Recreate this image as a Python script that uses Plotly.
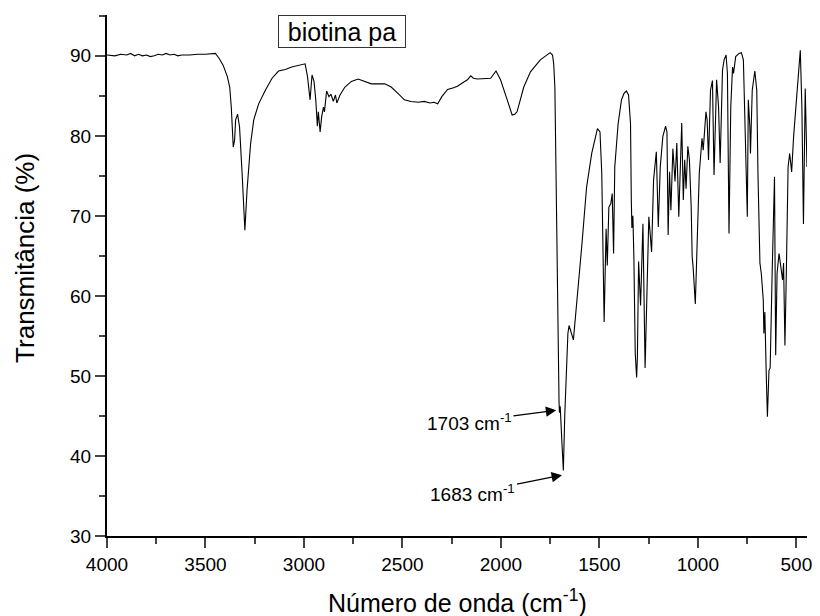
import plotly.graph_objects as go

# Wavenumber (cm-1) and transmittance (%)
wavenumber = [
    4000, 3960, 3930, 3900, 3880, 3860, 3840, 3820, 3800, 3780, 3760, 3740, 3720, 3700,
    3680, 3660, 3640, 3620, 3580, 3540, 3500, 3470, 3450, 3431, 3410, 3389, 3377, 3369,
    3359, 3352, 3347, 3337, 3327, 3314, 3300, 3289, 3271, 3255, 3230, 3196, 3162, 3129,
    3095, 3062, 3030, 2994, 2982, 2969, 2959, 2949, 2940, 2932, 2927, 2918, 2910, 2901,
    2896, 2885, 2873, 2863, 2851, 2840, 2833, 2817, 2792, 2759, 2725, 2691, 2658, 2590,
    2557, 2523, 2490, 2457, 2420, 2389, 2360, 2340, 2321, 2300, 2271, 2240, 2221, 2190,
    2170, 2153, 2140, 2120, 2080, 2052, 2025, 2002, 1968, 1943, 1930, 1918, 1884, 1850,
    1800, 1760, 1750, 1738, 1732, 1726, 1716, 1708, 1705, 1703, 1699, 1690, 1683, 1676,
    1665, 1660, 1654, 1643, 1632, 1590, 1565, 1539, 1522, 1510, 1497, 1488, 1476, 1466,
    1460, 1452, 1442, 1435, 1428, 1422, 1405, 1388, 1375, 1363, 1352, 1342, 1338, 1335,
    1330, 1325, 1318, 1316, 1311, 1307, 1301, 1291, 1279, 1268, 1249, 1235, 1225, 1211,
    1201, 1191, 1178, 1164, 1157, 1151, 1144, 1137, 1127, 1116, 1107, 1097, 1082, 1074,
    1067, 1060, 1051, 1043, 1034, 1029, 1024, 1013, 1005, 993, 979, 973, 959, 953,
    946, 936, 926, 918, 905, 895, 887, 875, 867, 857, 850, 842, 833, 824,
    819, 808, 791, 779, 769, 762, 757, 749, 744, 736, 733, 724, 711, 701,
    695, 685, 678, 668, 665, 660, 653, 647, 639, 633, 623, 611, 605, 598,
    588, 576, 570, 565, 558, 551, 542, 534, 524, 514, 497, 480, 472, 464,
    455, 446,
]
transmittance = [
    90.1, 90.0, 90.2, 90.1, 90.3, 90.0, 90.2, 90.0, 90.1, 89.9, 90.0, 90.2, 90.1, 90.3,
    90.1, 90.2, 90.0, 90.1, 90.1, 90.2, 90.2, 90.3, 90.3, 89.7, 88.8, 87.4, 86.1, 83.6,
    78.6, 79.5, 82.0, 82.7, 81.1, 75.3, 68.2, 73.2, 79.0, 82.0, 84.0, 85.7, 87.2, 88.1,
    88.3, 88.6, 88.8, 89.0, 87.4, 84.5, 87.6, 86.8, 84.5, 81.2, 83.0, 80.5, 82.4, 83.6,
    83.0, 85.6, 84.9, 85.2, 84.3, 85.1, 84.1, 85.1, 86.1, 86.8, 87.1, 86.8, 86.5, 86.5,
    86.1, 85.3, 84.5, 84.3, 84.2, 84.3, 84.1, 84.2, 84.0, 84.9, 85.8, 86.0, 86.2, 86.7,
    87.0, 87.5, 87.2, 87.1, 87.2, 87.2, 88.1, 87.0, 84.5, 82.6, 82.7, 83.0, 86.1, 88.0,
    89.5, 90.2, 90.4, 90.1, 89.0, 86.0, 67.0, 47.0, 46.8, 45.4, 46.2, 41.5, 38.2, 45.0,
    53.0, 55.3, 56.3, 55.5, 54.5, 66.1, 73.6, 77.8, 79.5, 80.9, 80.5, 75.3, 56.75, 68.4,
    63.8, 71.1, 71.55, 72.8, 65.3, 76.1, 81.5, 84.5, 85.3, 85.6, 85.1, 81.5, 72.0, 68.5,
    70.0, 64.9, 52.8, 51.8, 49.8, 52.5, 64.3, 58.8, 69.0, 51.0, 69.9, 65.5, 74.5, 78.0,
    68.6, 76.1, 79.9, 81.2, 80.5, 67.6, 75.5, 70.7, 78.4, 74.3, 79.1, 69.9, 81.6, 72.0,
    77.0, 73.4, 78.7, 77.0, 71.1, 64.9, 63.5, 59.0, 66.1, 75.3, 79.7, 78.2, 83.0, 82.0,
    77.0, 85.7, 86.9, 75.1, 87.0, 83.6, 76.6, 88.2, 89.5, 90.1, 87.8, 67.8, 83.6, 88.6,
    87.8, 89.9, 90.3, 90.4, 89.5, 83.6, 76.5, 69.9, 84.5, 81.1, 77.8, 85.7, 88.1, 85.7,
    75.3, 64.1, 62.8, 59.5, 55.3, 58.0, 50.3, 44.9, 50.7, 51.0, 62.8, 74.9, 52.6, 62.8,
    65.3, 63.2, 62.0, 64.1, 53.8, 62.8, 76.1, 77.8, 75.5, 79.9, 85.7, 90.7, 83.6, 69.0,
    85.9, 76.1,
]

x_ticks = [4000, 3500, 3000, 2500, 2000, 1500, 1000, 500]
y_ticks = [30, 40, 50, 60, 70, 80, 90]

# Peak labels: (label, arrow tip wavenumber, tip T, label centre wavenumber, label centre T)
peak_labels = [
    ("1703 cm<sup>-1</sup>", 1719, 45.7, 2160, 44.3),
    ("1683 cm<sup>-1</sup>", 1690, 37.6, 2142, 35.4),
]

FONT = "Liberation Sans, Arial, sans-serif"

fig = go.Figure()
fig.add_trace(go.Scatter(
    x=wavenumber, y=transmittance, mode="lines",
    line=dict(color="black", width=1.1), showlegend=False,
))

annotations = []
for text, tx, ty, lx, ly in peak_labels:
    annotations.append(dict(
        x=tx, y=ty, xref="x", yref="y", ax=lx, ay=ly, axref="x", ayref="y",
        text=text, showarrow=True, arrowhead=2, arrowsize=1.6, arrowwidth=1.3,
        arrowcolor="black", standoff=0, font=dict(size=19, color="black", family=FONT),
    ))

annotations.append(dict(
    x=0.336, y=1.0, xref="paper", yref="paper", text="biotina pa",
    showarrow=False, xanchor="center", yanchor="top", width=124, height=29,
    font=dict(size=25, color="black", family=FONT),
    bordercolor="#333333", borderwidth=1, borderpad=1, bgcolor="white",
))
annotations.append(dict(
    x=-0.1163, y=0.533, xref="paper", yref="paper", text="Transmitância (%)",
    showarrow=False, textangle=-90, xanchor="center", yanchor="middle",
    font=dict(size=26, color="black", family=FONT),
))
annotations.append(dict(
    x=0.5, y=-0.125, xref="paper", yref="paper", text="Número de onda (cm<sup>-1</sup>)",
    showarrow=False, xanchor="center", yanchor="middle",
    font=dict(size=25, color="black", family=FONT),
))

fig.update_layout(
    width=820, height=616,
    margin=dict(l=107, r=8, t=15, b=80),
    paper_bgcolor="white", plot_bgcolor="white",
    font=dict(family=FONT, color="black", size=19),
    annotations=annotations,
    xaxis=dict(
        range=[4000, 446], tickvals=x_ticks, ticks="outside", ticklen=10, tickwidth=2,
        showline=True, linewidth=2, linecolor="black", showgrid=False, zeroline=False,
        tickfont=dict(size=19), mirror=False,
        minor=dict(ticks="outside", ticklen=6, tickwidth=2, dtick=250, tick0=0, showgrid=False),
    ),
    yaxis=dict(
        range=[30, 95.1], tickvals=y_ticks, ticks="outside", ticklen=10, tickwidth=2,
        showline=True, linewidth=2, linecolor="black", showgrid=False, zeroline=False,
        tickfont=dict(size=19), mirror=False,
        minor=dict(ticks="outside", ticklen=6, tickwidth=2, dtick=5, tick0=0, showgrid=False),
    ),
)

fig.write_html("out.html")
